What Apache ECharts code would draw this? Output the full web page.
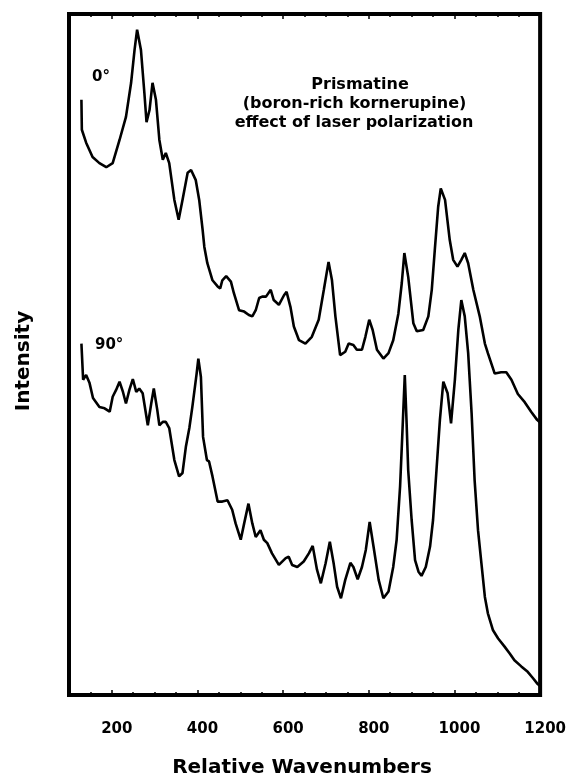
<!DOCTYPE html>
<html>
<head>
<meta charset="utf-8">
<script src="https://cdn.jsdelivr.net/npm/echarts@6/dist/echarts.min.js"></script>
<style>html,body{margin:0;padding:0;background:#fff}#c{width:569px;height:781px}</style>
</head>
<body>
<div id="c"></div>
<script>
// Relative wavenumbers (cm-1) and intensities (arbitrary units)
var wn0 = [129,130,140,155,171,187,202,218,233,245,253,259,268,276,281,288,295,303,311,319,326,334,346,356,365,377,385,396,404,412,416,423,435,447,453,458,467,478,485,497,509,520,528,536,544,551,560,571,578,590,602,608,617,625,637,652,667,683,695,706,714,722,733,745,753,764,772,784,792,801,809,819,834,846,857,869,877,883,892,904,912,927,939,947,954,962,968,978,989,997,1007,1016,1024,1032,1044,1059,1071,1078,1094,1109,1121,1133,1148,1164,1179,1193,1200];
var int0 = [87.4,83.0,81.1,79.0,78.1,77.5,78.1,81.5,84.9,89.9,94.7,97.7,94.7,88.4,84.1,85.9,89.9,87.4,81.5,78.6,79.6,78.1,72.7,69.8,72.7,76.7,77.1,75.6,72.7,68.3,65.8,63.4,60.9,60.0,59.7,60.9,61.5,60.7,59.0,56.5,56.3,55.8,55.6,56.5,58.3,58.5,58.5,59.5,58.0,57.3,58.7,59.2,57.0,54.1,52.1,51.6,52.6,55.1,59.5,63.6,60.9,55.6,49.9,50.4,51.6,51.4,50.7,50.7,52.6,55.1,53.6,50.7,49.4,50.2,52.1,56.0,60.5,64.9,61.4,54.6,53.4,53.6,55.6,59.5,65.3,71.7,74.4,72.7,66.8,63.9,62.9,63.9,64.9,63.4,59.5,55.6,51.6,50.2,47.2,47.4,47.4,46.3,44.2,43.0,41.6,40.4,40.0];
var wn90 = [129,133,140,148,156,171,183,195,202,210,218,226,233,241,249,257,264,272,284,292,298,306,311,319,326,334,346,357,365,373,381,388,398,402,408,413,422,427,435,447,458,470,481,489,501,509,519,528,536,547,555,563,574,590,606,613,621,633,648,660,669,679,688,699,709,718,726,735,745,757,764,774,784,793,802,811,823,834,846,857,865,873,878,884,888,892,900,908,916,923,933,943,950,958,966,974,984,992,1001,1009,1016,1024,1032,1040,1047,1055,1063,1071,1078,1090,1102,1117,1129,1140,1156,1171,1183,1193,1200];
var int90 = [51.6,46.3,47.0,45.8,43.6,42.3,42.1,41.6,43.8,44.8,46.0,44.5,42.8,44.8,46.4,44.5,45.0,44.3,39.6,42.8,45.0,41.9,39.6,40.1,40.1,39.2,34.5,32.1,32.6,36.5,39.2,42.3,47.2,49.4,46.7,37.9,34.5,34.3,32.1,28.4,28.4,28.6,27.2,25.2,22.8,25.2,28.1,25.2,23.2,24.2,22.8,22.3,20.8,19.1,20.1,20.3,19.1,18.8,19.6,20.8,21.9,18.4,16.4,19.3,22.5,19.3,15.9,14.2,16.9,19.4,18.8,17.0,18.8,21.3,25.4,21.8,16.9,14.2,15.2,18.8,22.8,30.6,37.9,47.0,40.4,33.0,25.7,19.8,18.1,17.5,18.8,21.8,25.7,33.0,40.4,46.0,44.3,39.9,46.3,53.6,58.0,55.6,50.2,41.4,31.6,24.2,19.3,14.4,12.0,9.5,8.3,7.1,6.1,5.1,4.2,3.4,2.5,1.7,1.3];
var majorTicks = [200,400,600,800,1000,1200];
var seriesNames = ['0°','90°'];
var titleLines = ['Prismatine','(boron-rich kornerupine)','effect of laser polarization'];
var xTitle = 'Relative Wavenumbers';
var yTitle = 'Intensity';

function pairs(xs, ys){ return xs.map(function(x,i){ return [x, ys[i]]; }); }

var FONT = '"DejaVu Sans", sans-serif';
var chart = echarts.init(document.getElementById('c'), null, {renderer:'canvas'});

function xAx(pos, major){
  var a = {
    type:'value', position:pos, min:100, max:1200, gridIndex:0,
    axisLine:{show:false}, splitLine:{show:false},
    axisTick:{show:true, inside:true, length: major?5:3, lineStyle:{color:'#000', width:1.5}},
    axisLabel:{show:false}
  };
  if (major) {
    a.axisTick.customValues = majorTicks;
    a.axisLabel = {show: pos==='bottom', customValues: majorTicks, formatter:function(v){return String(v);},
      color:'#000', fontFamily:FONT, fontWeight:'bold', fontSize:15, margin:27, padding:[0,0,0,10]};
  } else {
    a.interval = 50;
  }
  return a;
}

chart.setOption({
  animation:false,
  backgroundColor:'#fff',
  grid:{left:69, right:27, top:14, bottom:86, show:true, borderColor:'#000', borderWidth:4, backgroundColor:'transparent', containLabel:false},
  xAxis:[xAx('bottom',true), xAx('bottom',false), xAx('top',true), xAx('top',false)],
  yAxis:{type:'value', min:0, max:100, show:false},
  series:[
    {name:seriesNames[0], type:'line', data:pairs(wn0,int0), showSymbol:false, smooth:false, lineStyle:{color:'#000', width:2.6}, xAxisIndex:0},
    {name:seriesNames[1], type:'line', data:pairs(wn90,int90), showSymbol:false, smooth:false, lineStyle:{color:'#000', width:2.6}, xAxisIndex:0}
  ],
  graphic:[
    {type:'text', x:92, y:77, style:{text:seriesNames[0], fill:'#000', font:'bold 15px '+FONT, textAlign:'left', textVerticalAlign:'middle'}},
    {type:'text', x:95, y:345, style:{text:seriesNames[1], fill:'#000', font:'bold 15px '+FONT, textAlign:'left', textVerticalAlign:'middle'}},
    {type:'text', x:360, y:85, style:{text:titleLines[0], fill:'#000', font:'bold 16px '+FONT, textAlign:'center', textVerticalAlign:'middle'}},
    {type:'text', x:354.5, y:104, style:{text:titleLines[1], fill:'#000', font:'bold 16px '+FONT, textAlign:'center', textVerticalAlign:'middle'}},
    {type:'text', x:354, y:123, style:{text:titleLines[2], fill:'#000', font:'bold 16px '+FONT, textAlign:'center', textVerticalAlign:'middle'}},
    {type:'text', x:302, y:768, style:{text:xTitle, fill:'#000', font:'bold 20px '+FONT, textAlign:'center', textVerticalAlign:'middle'}},
    {type:'text', x:24, y:361, rotation:Math.PI/2, style:{text:yTitle, fill:'#000', font:'bold 20px '+FONT, textAlign:'center', textVerticalAlign:'middle'}}
  ]
});
</script>
</body>
</html>
